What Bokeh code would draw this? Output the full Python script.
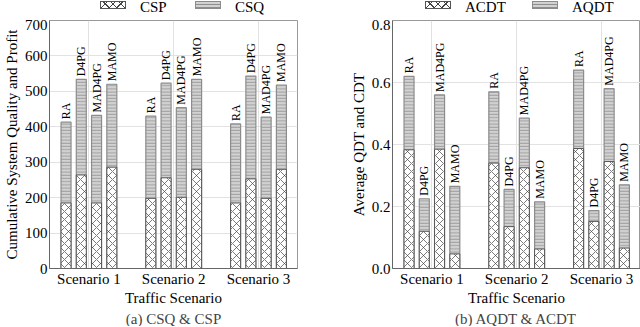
import math
from bokeh.plotting import figure
from bokeh.layouts import row, column
from bokeh.models import (ColumnDataSource, Range1d, FixedTicker, Div, Title,
                          NumeralTickFormatter)
from bokeh.core.properties import value
from bokeh.embed import file_html
from bokeh.resources import INLINE

scenarios = ["Scenario 1", "Scenario 2", "Scenario 3"]
methods = ["RA", "D4PG", "MAD4PG", "MAMO"]

# values listed scenario by scenario, methods in the order above
csq = [413, 534, 432, 520, 430, 523, 454, 534, 408, 543, 427, 518]
csp = [185, 264, 185, 286, 198, 256, 201, 280, 185, 253, 198, 280]
aqdt = [0.62, 0.225, 0.56, 0.265, 0.57, 0.255, 0.485, 0.215, 0.64, 0.187, 0.58, 0.27]
acdt = [0.383, 0.12, 0.385, 0.047, 0.34, 0.135, 0.325, 0.063, 0.387, 0.152, 0.345, 0.066]

FONT = "Liberation Serif"
offsets = [-0.27, -0.09, 0.09, 0.27]
BW = 0.118
FW = 248
FH = 248
LEFT = 44
LEG_H = 19

TOP_STYLE = dict(fill_color="#d2d2d2", line_color="#8c8c8c", line_width=1.2,
                 hatch_pattern="horizontal_line", hatch_color="#8f8f8f",
                 hatch_scale=3.2, hatch_weight=0.8)
BOT_STYLE = dict(fill_color="white", line_color="#555555", line_width=1.0,
                 hatch_pattern="diagonal_cross", hatch_color="#444444",
                 hatch_scale=8, hatch_weight=0.7)

CROSS_CSS = ("background:repeating-linear-gradient(45deg,#444 0 1px,transparent 1px 5.5px),"
             "repeating-linear-gradient(-45deg,#444 0 1px,transparent 1px 5.5px),#fff;"
             "border:1px solid #555;")
LINES_CSS = ("background:repeating-linear-gradient(0deg,#8f8f8f 0 1px,#d2d2d2 1px 3.2px);"
             "border:1px solid #8c8c8c;")


def legend_div(bot_name, top_name, total_w, x1, x2):
    def item(x, css, name):
        return (f'<span style="position:absolute;left:{x}px;top:1px;width:26px;height:8px;{css}"></span>'
                f'<span style="position:absolute;left:{x + 40}px;top:0px;line-height:14px;">{name}</span>')
    html = (f'<div style="position:relative;width:{total_w}px;height:{LEG_H}px;'
            f'font-family:\'{FONT}\';font-size:15px;color:black;overflow:visible;">'
            + item(x1, CROSS_CSS, bot_name) + item(x2, LINES_CSS, top_name) + '</div>')
    return Div(text=html, width=total_w, height=LEG_H, margin=(0, 0, 0, 0))


def make_fig(top_vals, bot_vals, ylab, caption, ymax, yticks, fmt, br):
    xs = [si + offsets[mi] for si in range(len(scenarios)) for mi in range(len(methods))]
    labels = [m for _ in scenarios for m in methods]
    src = ColumnDataSource(dict(x=xs, top=top_vals, bot=bot_vals, lab=labels))
    p = figure(frame_width=FW, frame_height=FH, output_backend="svg", toolbar_location=None,
               x_range=Range1d(-0.465, 2.46), y_range=Range1d(0, ymax),
               min_border_left=LEFT, min_border_right=br, min_border_top=1, min_border_bottom=0)
    p.vbar(x="x", top="top", width=BW, source=src, **TOP_STYLE)
    p.vbar(x="x", top="bot", width=BW, source=src, **BOT_STYLE)
    p.text(x="x", y="top", text="lab", source=src, angle=math.pi / 2, text_align="left",
           text_baseline="middle", y_offset=-3, text_font=value(FONT),
           text_font_size="12px", text_color="black")

    p.xaxis.ticker = FixedTicker(ticks=[0, 1, 2])
    p.xaxis.major_label_overrides = {0: scenarios[0], 1: scenarios[1], 2: scenarios[2]}
    p.yaxis.ticker = FixedTicker(ticks=yticks)
    if fmt:
        p.yaxis.formatter = NumeralTickFormatter(format=fmt)
    p.xaxis.axis_label = "Traffic Scenario"
    p.yaxis.axis_label = ylab
    for ax in (p.xaxis[0], p.yaxis[0]):
        ax.major_label_text_font = FONT
        ax.major_label_text_font_size = "15px"
        ax.axis_label_text_font = FONT
        ax.axis_label_text_font_size = "15px"
        ax.axis_label_text_font_style = "normal"
        ax.major_tick_line_color = None
        ax.minor_tick_line_color = None
        ax.major_tick_out = 0
        ax.major_tick_in = 0
        ax.minor_tick_out = 0
        ax.axis_line_color = "#666666"
        ax.major_label_text_color = "black"
        ax.axis_label_text_color = "black"
    p.xaxis.major_label_standoff = 2
    p.xaxis.axis_label_standoff = 0
    p.yaxis.major_label_standoff = 2
    p.yaxis.axis_label_standoff = 2
    p.xgrid.ticker = FixedTicker(ticks=[0, 1, 2])
    p.grid.grid_line_color = "#e2e2e2"
    p.outline_line_color = "#999999"
    p.add_layout(Title(text=caption, align="center", text_font=FONT, text_font_size="15px",
                       text_font_style="normal", standoff=0, offset=0), "below")
    return p


BR1, BR2 = 50, 0
p1 = make_fig(csq, csp, "Cumulative System Quality and Profit", "(a) CSQ & CSP",
              700, [0, 100, 200, 300, 400, 500, 600, 700], None, BR1)
p2 = make_fig(aqdt, acdt, "Average QDT and CDT", "(b) AQDT & ACDT",
              0.8, [0, 0.2, 0.4, 0.6, 0.8], "0.0", BR2)
l1 = legend_div("CSP", "CSQ", LEFT + FW + BR1, 100, 195)
l2 = legend_div("ACDT", "AQDT", LEFT + FW + BR2, 78, 185)

layout = row(column(l1, p1, spacing=0), column(l2, p2, spacing=0), spacing=0)
open("out.html", "w").write(file_html(layout, INLINE))
